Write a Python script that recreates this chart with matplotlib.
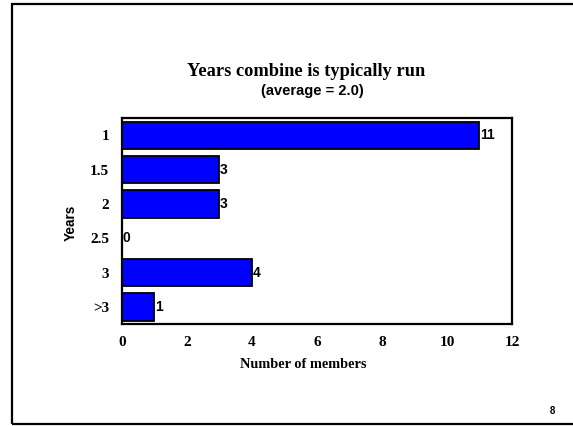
""" barres horizontales : annees d'utilisation de la moissonneuse """

import matplotlib
matplotlib.use('Agg')
import matplotlib.pyplot as plt
from matplotlib.patches import Rectangle

# donnees
categories = ['1', '1.5', '2', '2.5', '3', '>3']
membres = [11, 3, 3, 0, 4, 1]
xticks = [0, 2, 4, 6, 8, 10, 12]

serif = 'Liberation Serif'
sans = 'Liberation Sans'
W, H = 573, 426

fig = plt.figure(figsize=(W/100, H/100), dpi=100)
fig.patch.set_facecolor('white')

# cadre de la page
fig.patches.append(Rectangle((12/W, 2/H), 1.2, 420/H, transform=fig.transFigure,
                             fill=False, edgecolor='black', linewidth=1.6))

ax = fig.add_axes([121.7/W, (H-324)/H, 390.3/W, 205.7/H])
pos = list(range(len(categories)))
ax.barh(pos, membres, height=0.8, color='#0000ff', edgecolor='black', linewidth=1.3)
ax.set_ylim(len(categories)-0.5, -0.5)
ax.set_xlim(0, 12)
ax.set_yticks(pos)
ax.set_yticklabels(categories, fontfamily=serif, fontweight='bold', fontsize=11)
ax.set_xticks(xticks)
ax.set_xticklabels([str(v) for v in xticks], fontfamily=serif, fontweight='bold', fontsize=11)
ax.tick_params(axis='both', length=0)
ax.tick_params(axis='y', pad=9)
ax.tick_params(axis='x', pad=9)
for s in ax.spines.values():
    s.set_linewidth(1.6)

for p, v in zip(pos, membres):
    ax.annotate(str(v), (v, p), xytext=(0.5, 0), textcoords='offset points',
                ha='left', va='center', fontfamily=sans, fontweight='bold', fontsize=10)

# textes
fig.text(306/W, 1-72/H, 'Years combine is typically run', ha='center', va='center',
         fontfamily=serif, fontweight='bold', fontsize=13.2)
fig.text(312/W, 1-91/H, '(average = 2.0)', ha='center', va='center',
         fontfamily=sans, fontweight='bold', fontsize=10.5)
fig.text(71/W, 1-223/H, 'Years', ha='center', va='center', rotation=90,
         fontfamily=sans, fontweight='bold', fontsize=9.8)
fig.text(303/W, 1-365/H, 'Number of members', ha='center', va='center',
         fontfamily=serif, fontweight='bold', fontsize=10.3)
fig.text(552/W, 1-410.5/H, '8', ha='center', va='center',
         fontfamily=sans, fontweight='bold', fontsize=7)

fig.savefig('out.png', dpi=100)
